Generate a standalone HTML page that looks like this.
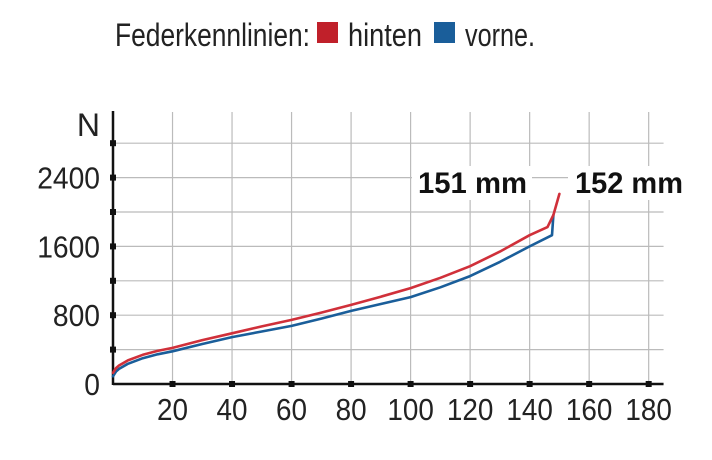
<!DOCTYPE html>
<html><head><meta charset="utf-8"><style>
html,body{margin:0;padding:0;background:#fff;}
svg{display:block;font-family:"Liberation Sans Narrow","Liberation Sans",sans-serif;}
</style></head><body>
<svg id="chart" width="712" height="460" viewBox="0 0 712 460">
  <g>
    <text x="115" y="46" font-size="32" textLength="195" lengthAdjust="spacingAndGlyphs" fill="#222">Federkennlinien:</text>
    <rect x="317" y="22" width="21" height="21" fill="#c0202a"/>
    <text x="348" y="46" font-size="32" textLength="74" lengthAdjust="spacingAndGlyphs" fill="#222">hinten</text>
    <rect x="434" y="22" width="21" height="21" fill="#1a5e9a"/>
    <text x="465" y="46" font-size="32" textLength="70" lengthAdjust="spacingAndGlyphs" fill="#222">vorne.</text>
  </g>
  <g id="grid"></g>
  <g id="axes"></g>
  <rect x="412" y="166" width="120" height="34" fill="#fff"/>
  <rect x="568" y="166" width="120" height="34" fill="#fff"/>
  <g id="series"></g>
  <text x="418" y="193" font-size="30" font-weight="bold" textLength="109" lengthAdjust="spacingAndGlyphs" fill="#111">151 mm</text>
  <text x="575" y="193" font-size="30" font-weight="bold" textLength="108" lengthAdjust="spacingAndGlyphs" fill="#111">152 mm</text>
</svg>
<script>
const xTicks = [20, 40, 60, 80, 100, 120, 140, 160, 180];
const yTicks = [0, 800, 1600, 2400];
const yGrid = [400, 800, 1200, 1600, 2000, 2400, 2800];
const hintenX = [0, 1, 2, 5, 10, 15, 20, 30, 40, 50, 60, 70, 80, 90, 100, 110, 120, 130, 140, 146, 148, 150];
const hintenY = [130, 185, 215, 275, 340, 385, 420, 510, 590, 670, 745, 830, 920, 1015, 1115, 1235, 1370, 1540, 1730, 1825, 1965, 2210];
const vorneX = [0, 1, 2, 5, 10, 15, 20, 30, 40, 50, 60, 70, 80, 90, 100, 110, 120, 130, 140, 147.5, 148];
const vorneY = [90, 145, 175, 235, 300, 345, 380, 465, 545, 610, 675, 760, 850, 930, 1010, 1125, 1255, 1420, 1600, 1730, 1965];

const X0 = 113, Y0 = 384, SX = 2.976, SY = 0.086;
const xs = v => X0 + v * SX;
const ys = v => Y0 - v * SY;
const NS = 'http://www.w3.org/2000/svg';
function mk(tag, attrs, parent) {
  const e = document.createElementNS(NS, tag);
  for (const k in attrs) e.setAttribute(k, attrs[k]);
  parent.appendChild(e);
  return e;
}
const grid = document.getElementById('grid');
const axes = document.getElementById('axes');
const series = document.getElementById('series');
const right = xs(185);
yGrid.forEach(v => {
  const l = mk('line', {x1: X0, x2: right, y1: ys(v), y2: ys(v), stroke: '#bbb', 'stroke-width': 1.2}, grid);
  
  
  const t = mk('rect', {x: X0 - 3, y: ys(v) - 3, width: 6, height: 6, fill: '#111'}, axes);
  
  
});
xTicks.forEach(v => {
  const l = mk('line', {x1: xs(v), x2: xs(v), y1: 112, y2: Y0, stroke: '#bbb', 'stroke-width': 1.2}, grid);
  
  
  const t = mk('rect', {x: xs(v) - 3, y: Y0 - 3, width: 6, height: 6, fill: '#111'}, axes);
  
  
  const lab = mk('text', {x: xs(v), y: 420, 'font-size': 31, 'text-anchor': 'middle', fill: '#222'}, axes);
  lab.textContent = String(v);
  lab.setAttribute('textLength', String(v).length * 15.5);
  lab.setAttribute('lengthAdjust', 'spacingAndGlyphs');
  
  
});
yTicks.forEach(v => {
  const lab = mk('text', {x: 100, y: ys(v) + 11, 'font-size': 31, 'text-anchor': 'end', fill: '#222'}, axes);
  lab.textContent = String(v);
  lab.setAttribute('textLength', String(v).length * 15.7);
  lab.setAttribute('lengthAdjust', 'spacingAndGlyphs');
  
  
});
const yt = mk('text', {x: 100, y: 136, 'font-size': 32, 'text-anchor': 'end', fill: '#222'}, axes);
yt.textContent = 'N';


const ya = mk('line', {x1: X0, x2: X0, y1: 111, y2: Y0 + 1, stroke: '#111', 'stroke-width': 2.5}, axes);


const xa = mk('line', {x1: X0, x2: right, y1: Y0, y2: Y0, stroke: '#111', 'stroke-width': 2.5}, axes);


function pts(X, Y) { return X.map((v, i) => xs(v).toFixed(1) + ',' + ys(Y[i]).toFixed(1)).join(' '); }
const pv = mk('polyline', {points: pts(vorneX, vorneY), fill: 'none', stroke: '#1a5e9a', 'stroke-width': 2.6, 'stroke-linejoin': 'round', 'stroke-linecap': 'round'}, series);


const ph = mk('polyline', {points: pts(hintenX, hintenY), fill: 'none', stroke: '#d0303a', 'stroke-width': 2.6, 'stroke-linejoin': 'round', 'stroke-linecap': 'round'}, series);


</script>
</body></html>
